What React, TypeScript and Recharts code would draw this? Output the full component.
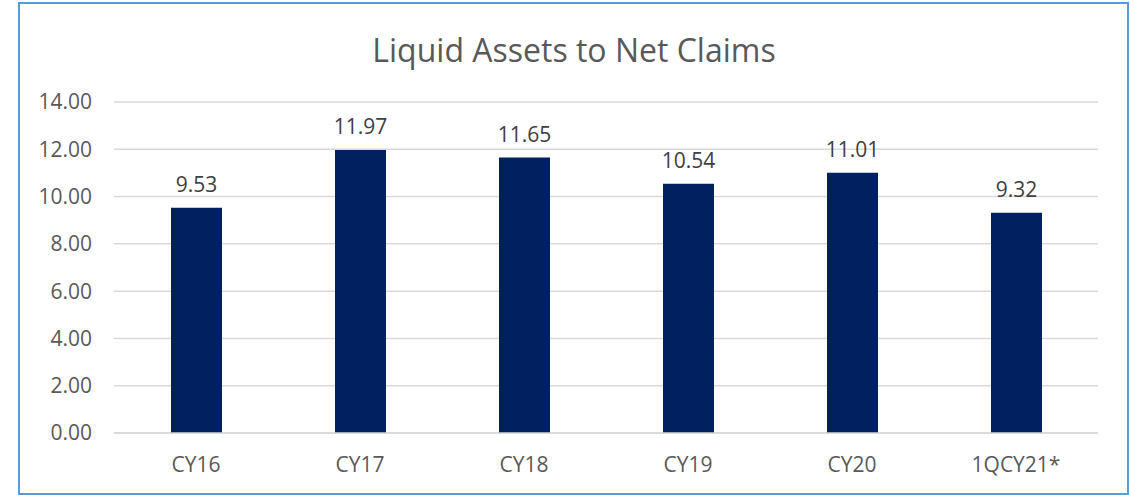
import React from 'react';
import { BarChart, Bar, XAxis, YAxis, CartesianGrid, LabelList } from 'recharts';

const categories = ['CY16', 'CY17', 'CY18', 'CY19', 'CY20', '1QCY21*'];
const ratios = [9.53, 11.97, 11.65, 10.54, 11.01, 9.32];
const yTicks = [0, 2, 4, 6, 8, 10, 12, 14];

const data = categories.map((name, i) => ({ name, value: ratios[i] }));

const FONT = '"Open Sans", sans-serif';
const GREY = '#595959';

export default function App() {
  return (
    <div style={{ position: 'absolute', left: 0, top: 0, width: 1130, height: 495, background: '#fff', fontFamily: FONT }}>
      {/* outer frame */}
      <div
        style={{
          position: 'absolute',
          left: 18,
          top: 2,
          width: 1111,
          height: 493,
          border: '2px solid #5B9BD5',
          boxSizing: 'border-box',
        }}
      />
      <div
        style={{
          position: 'absolute',
          left: 0,
          top: 30,
          width: 1148,
          textAlign: 'center',
          fontSize: 32,
          color: GREY,
          lineHeight: '40px',
        }}
      >
        Liquid Assets to Net Claims
      </div>
      <div style={{ position: 'absolute', left: 0, top: 0 }}>
        <BarChart
          width={1130}
          height={495}
          data={data}
          margin={{ top: 102, right: 32, left: 20, bottom: 32 }}
          barSize={51}
        >
          <CartesianGrid vertical={false} stroke="#d9d9d9" strokeWidth={1.5} />
          <XAxis
            dataKey="name"
            axisLine={{ stroke: '#d9d9d9', strokeWidth: 1.5 }}
            tickLine={false}
            tickSize={0}
            tickMargin={24}
            height={30}
            tick={{ fill: GREY, fontSize: 21, fontFamily: FONT }}
          />
          <YAxis
            domain={[0, 14]}
            ticks={yTicks}
            interval={0}
            width={94}
            axisLine={false}
            tickLine={false}
            tickSize={0}
            tickMargin={22}
            tickFormatter={(v: number) => v.toFixed(2)}
            tick={{ fill: GREY, fontSize: 21, fontFamily: FONT }}
          />
          <Bar dataKey="value" fill="#002060" isAnimationActive={false}>
            <LabelList
              dataKey="value"
              position="top"
              offset={16}
              formatter={(v: number) => v.toFixed(2)}
              style={{ fill: '#404040', fontSize: 21, fontFamily: FONT }}
            />
          </Bar>
        </BarChart>
      </div>
    </div>
  );
}
